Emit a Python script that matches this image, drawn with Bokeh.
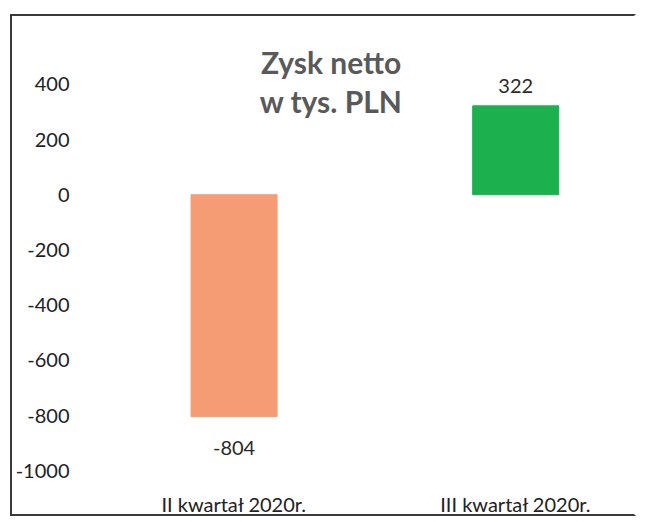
from bokeh.plotting import figure
from bokeh.models import ColumnDataSource, Range1d, FixedTicker, Label
from bokeh.core.properties import value
from bokeh.embed import file_html
from bokeh.resources import INLINE

categories = ["II kwartał 2020r.", "III kwartał 2020r."]
values = [-804, 322]
bar_colors = ["#F59C75", "#1DB04E"]
y_ticks = [-1000, -800, -600, -400, -200, 0, 200, 400]
y_tick_labels = ["-1000", "-800", "-600", "-400", "-200", "0", "200", "400"]
title_lines = ["Zysk netto", "w tys. PLN"]

FONT = "Lato"

xs = list(range(len(categories)))
src = ColumnDataSource(dict(
    x=xs,
    top=[max(v, 0) for v in values],
    bottom=[min(v, 0) for v in values],
    color=bar_colors,
    val=values,
    label=[str(v) for v in values],
    yoff=[-20 if v > 0 else 31 for v in values],
))

p = figure(width=626, height=502, output_backend="svg", toolbar_location=None,
           x_range=Range1d(-0.563, 1.436), y_range=Range1d(-1010, 595),
           min_border_left=63, min_border_right=0, min_border_top=14, min_border_bottom=42,
           outline_line_color=None, background_fill_color="white", border_fill_color="white")
p.margin = (14, 0, 0, 10)
p.styles = {"border-left": "2px solid #3a3a3a", "border-top": "2px solid #3a3a3a",
            "border-bottom": "2px solid #3a3a3a", "border-right": "2px solid #ffffff"}

p.vbar(x="x", top="top", bottom="bottom", width=0.3055, color="color", source=src)

p.text(x="x", y="val", text="label", y_offset="yoff", source=src,
       text_align="center", text_baseline="middle", text_font=value(FONT),
       text_font_size="20px", text_color="#2a2a2a")

p.xgrid.visible = False
p.ygrid.visible = False

p.xaxis.ticker = FixedTicker(ticks=xs)
p.xaxis.major_label_overrides = {i: c for i, c in zip(xs, categories)}
p.yaxis.ticker = FixedTicker(ticks=y_ticks)
p.yaxis.major_label_overrides = {t: s for t, s in zip(y_ticks, y_tick_labels)}

for ax in (p.xaxis[0], p.yaxis[0]):
    ax.axis_line_color = None
    ax.major_tick_line_color = None
    ax.minor_tick_line_color = None
    ax.major_tick_out = 0
    ax.major_tick_in = 0
    ax.major_label_text_font = FONT
    ax.major_label_text_font_size = "20px"
    ax.major_label_text_color = "#222222"
p.xaxis.major_label_standoff = 18
p.yaxis.major_label_standoff = 6

ty = [480, 340]
for line, yy in zip(title_lines, ty):
    p.add_layout(Label(x=0.3446, y=yy, text=line, text_align="center", text_baseline="middle",
                       text_font=FONT, text_font_size="30px", text_font_style="bold",
                       text_color="#595959"))

open("out.html", "w").write(file_html(p, INLINE))
